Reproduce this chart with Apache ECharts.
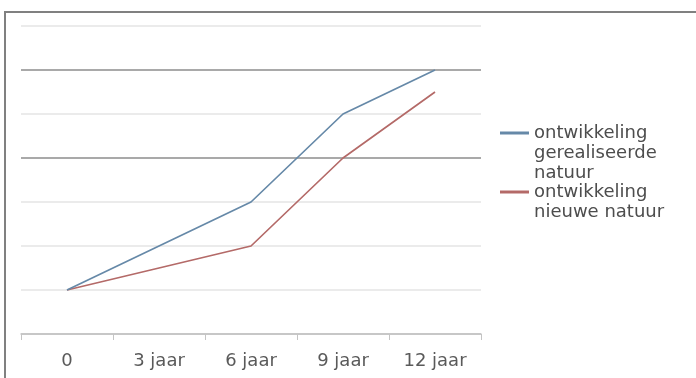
<!DOCTYPE html>
<html>
<head>
<meta charset="utf-8">
<script src="https://cdn.jsdelivr.net/npm/echarts@6/dist/echarts.min.js"></script>
<style>
  html, body { margin: 0; padding: 0; background: #fff; }
  #chart { width: 696px; height: 378px; }
</style>
</head>
<body>
<div id="chart"></div>
<script>
// categories on the x axis
const categories = ['0', '3 jaar', '6 jaar', '9 jaar', '12 jaar'];

// series values
const gerealiseerd = [1, 2, 3, 5, 6];
const nieuw        = [1, 1.5, 2, 4, 5.5];

const seriesNames = ['ontwikkeling\ngerealiseerde\nnatuur', 'ontwikkeling\nnieuwe natuur'];

const blueLine = '#6689a8';
const redLine  = '#b46a68';
const lightGrid = '#e4e4e4';
const darkGrid  = '#8c8c8c';
const font = 'DejaVu Sans';

const chart = echarts.init(document.getElementById('chart'));

// legend text is centred on the icon, so pad the top with empty lines
// to put the icon next to the first line, like the picture
function legendFor(name, top) {
  const lines = name.split('\n').length;
  return {
    orient: 'vertical',
    left: 500,
    top: top,
    padding: 0,
    itemWidth: 29,
    itemHeight: 3,
    icon: 'rect',
    selectedMode: false,
    data: [name],
    formatter: n => '\n'.repeat(lines - 1) + n,
    textStyle: { color: '#4d4d4d', fontFamily: font, fontSize: 18, lineHeight: 20 }
  };
}

chart.setOption({
  animation: false,
  backgroundColor: '#fff',
  grid: { left: 21, right: 215, top: 26, bottom: 44, containLabel: false },
  xAxis: {
    type: 'category',
    data: categories,
    boundaryGap: true,
    axisLine: { lineStyle: { color: '#c4c4c4', width: 1.5 } },
    axisTick: { show: true, length: 6, lineStyle: { color: '#c4c4c4' } },
    axisLabel: { color: '#5a5a5a', fontFamily: font, fontSize: 18, margin: 18 }
  },
  yAxis: {
    type: 'value',
    min: 0,
    max: 7,
    interval: 1,
    axisLine: { show: false },
    axisTick: { show: false },
    axisLabel: { show: false },
    splitLine: {
      show: true,
      lineStyle: {
        width: 1.5,
        // value 4 and 6 lines are the darker ones in the picture
        color: ['#c4c4c4', lightGrid, lightGrid, lightGrid, darkGrid, lightGrid, darkGrid, lightGrid]
      }
    }
  },
  legend: [
    legendFor(seriesNames[0], 83),
    legendFor(seriesNames[1], 162)
  ],
  graphic: [
    {
      // frame round the chart area, open to the right and bottom
      type: 'polyline',
      shape: { points: [[5, 378], [5, 12], [696, 12]] },
      style: { stroke: '#808080', lineWidth: 2, fill: null },
      silent: true
    }
  ],
  series: [
    {
      name: seriesNames[0],
      type: 'line',
      data: gerealiseerd,
      symbol: 'none',
      color: blueLine,
      lineStyle: { width: 1.7, color: blueLine },
      z: 3
    },
    {
      name: seriesNames[1],
      type: 'line',
      data: nieuw,
      symbol: 'none',
      color: redLine,
      lineStyle: { width: 1.7, color: redLine },
      z: 2
    }
  ]
});
</script>
</body>
</html>
